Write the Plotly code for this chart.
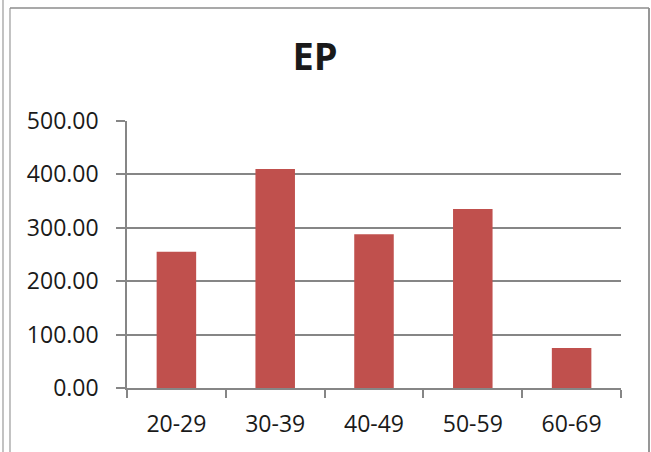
import plotly.graph_objects as go

# Age groups and EP values
age_groups = ["20-29", "30-39", "40-49", "50-59", "60-69"]
ep_values = [255, 410, 288, 335, 75]
y_ticks = [0, 100, 200, 300, 400, 500]
y_tick_labels = [f"{v:.2f}" for v in y_ticks]

W, H = 651, 452
L, R, T, B = 127, 621, 121, 388  # plot area in pixels

GRID = "#868686"
FRAME = "#9a9a9a"
FONT = "Open Sans"
TEXT = "#1a1a1a"

fig = go.Figure(
    go.Bar(
        x=age_groups,
        y=ep_values,
        marker=dict(color="#C0504D", line=dict(width=0)),
        width=0.4,
    )
)


def fx(px):
    return (px - L) / (R - L)


def fy(py):
    return (B - py) / (B - T)


# outer chart frame
frame = [
    (3, 0, 3, H, 1.2, FRAME),
    (10, 8, 10, H, 1.2, FRAME),
    (10, 8, 649, 8, 1.5, "#8c8c8c"),
    (649, 8, 649, H, 1.8, "#8c8c8c"),
]
shapes = [
    dict(type="line", xref="paper", yref="paper",
         x0=fx(a), y0=fy(b), x1=fx(c), y1=fy(d),
         line=dict(color=col, width=w), layer="above")
    for a, b, c, d, w, col in frame
]

fig.update_layout(
    width=W,
    height=H,
    margin=dict(l=L, r=W - R, t=T, b=H - B, pad=0),
    paper_bgcolor="white",
    plot_bgcolor="white",
    showlegend=False,
    bargap=0.6,
    font=dict(family=FONT, size=23, color=TEXT),
    title=dict(
        text="<b>EP</b>",
        x=315 / W,
        xref="container",
        xanchor="center",
        y=1 - 57 / H,
        yref="container",
        yanchor="middle",
        font=dict(family=FONT, size=38, color=TEXT),
    ),
    shapes=shapes,
)

fig.update_xaxes(
    type="category",
    tickson="boundaries",
    ticks="outside",
    ticklen=8,
    tickwidth=1.5,
    tickcolor=GRID,
    showline=True,
    linecolor=GRID,
    linewidth=1.5,
    showgrid=False,
    tickfont=dict(family=FONT, size=23, color=TEXT),
    ticklabelstandoff=15,
)

fig.update_yaxes(
    range=[0, 500],
    tickvals=y_ticks,
    ticktext=y_tick_labels,
    ticks="outside",
    ticklen=9,
    tickwidth=1.5,
    tickcolor=GRID,
    showline=True,
    linecolor=GRID,
    linewidth=1.5,
    showgrid=True,
    gridcolor=GRID,
    gridwidth=1.5,
    zeroline=False,
    tickfont=dict(family=FONT, size=23, color=TEXT),
    ticklabelstandoff=13,
)

fig.write_html("out.html")
